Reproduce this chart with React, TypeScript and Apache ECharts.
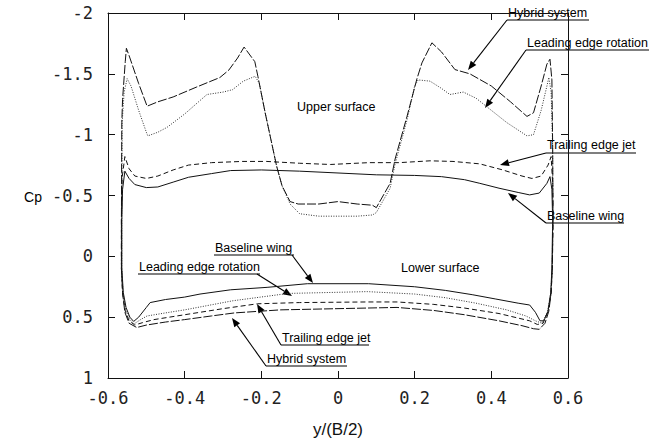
import React, { useEffect, useRef } from "react";
import * as echarts from "echarts";

// Spanwise stations y/(B/2) and pressure coefficient Cp.
const baselineUpper: [number, number][] = [
  [-0.564, -0.3], [-0.562, -0.55], [-0.556, -0.7], [-0.545, -0.64], [-0.53, -0.59], [-0.5, -0.565],
  [-0.47, -0.57], [-0.43, -0.61], [-0.39, -0.65], [-0.33, -0.68], [-0.28, -0.705], [-0.2, -0.71],
  [-0.1, -0.7], [0, -0.685], [0.1, -0.67], [0.2, -0.665], [0.27, -0.655], [0.33, -0.63],
  [0.37, -0.6], [0.42, -0.56], [0.47, -0.525], [0.5, -0.505], [0.525, -0.52], [0.545, -0.6],
  [0.553, -0.655], [0.558, -0.55], [0.56, -0.3],
];
const baselineLower: [number, number][] = [
  [-0.564, 0.1], [-0.56, 0.3], [-0.553, 0.42], [-0.543, 0.5], [-0.533, 0.535], [-0.52, 0.5],
  [-0.5, 0.42], [-0.49, 0.38], [-0.45, 0.355], [-0.4, 0.335], [-0.36, 0.31], [-0.28, 0.275],
  [-0.185, 0.255], [-0.08, 0.225], [0.08, 0.225], [0.2, 0.25], [0.28, 0.28], [0.35, 0.315],
  [0.41, 0.35], [0.47, 0.385], [0.5, 0.4], [0.515, 0.46], [0.527, 0.53], [0.537, 0.53],
  [0.548, 0.45], [0.555, 0.3], [0.558, 0.1],
];
const trailingJetUpper: [number, number][] = [
  [-0.565, -0.3], [-0.563, -0.65], [-0.556, -0.82], [-0.545, -0.72], [-0.53, -0.66], [-0.5, -0.64],
  [-0.47, -0.66], [-0.43, -0.71], [-0.39, -0.75], [-0.33, -0.77], [-0.25, -0.78], [-0.186, -0.78],
  [-0.1, -0.765], [-0.02, -0.755], [0.08, -0.77], [0.16, -0.77], [0.24, -0.785], [0.3, -0.78],
  [0.37, -0.76], [0.43, -0.71], [0.48, -0.66], [0.506, -0.64], [0.53, -0.66], [0.548, -0.75],
  [0.556, -0.82], [0.56, -0.6], [0.561, -0.3],
];
const trailingJetLower: [number, number][] = [
  [-0.565, 0.1], [-0.562, 0.3], [-0.555, 0.45], [-0.545, 0.53], [-0.53, 0.565], [-0.51, 0.545],
  [-0.48, 0.52], [-0.44, 0.5], [-0.4, 0.48], [-0.3, 0.43], [-0.21, 0.39], [-0.1, 0.38],
  [0.076, 0.375], [0.154, 0.375], [0.25, 0.395], [0.33, 0.425], [0.42, 0.47], [0.5, 0.53],
  [0.52, 0.56], [0.535, 0.55], [0.548, 0.45], [0.556, 0.3], [0.559, 0.1],
];
const leadingRotUpper: [number, number][] = [
  [-0.564, -0.3], [-0.563, -1.1], [-0.558, -1.35], [-0.55, -1.46], [-0.54, -1.4], [-0.52, -1.2],
  [-0.5, -1.02], [-0.496, -0.99], [-0.47, -1.02], [-0.446, -1.06], [-0.4, -1.17], [-0.342, -1.33],
  [-0.3, -1.35], [-0.275, -1.37], [-0.247, -1.44], [-0.216, -1.48], [-0.205, -1.42], [-0.19, -1.18],
  [-0.16, -0.74], [-0.146, -0.58], [-0.125, -0.43], [-0.1, -0.35], [-0.05, -0.33], [0, -0.33],
  [0.05, -0.33], [0.09, -0.34], [0.1, -0.36], [0.136, -0.56], [0.149, -0.76], [0.18, -1.12],
  [0.2, -1.4], [0.209, -1.45], [0.24, -1.44], [0.27, -1.38], [0.292, -1.33], [0.327, -1.35],
  [0.36, -1.3], [0.388, -1.23], [0.44, -1.1], [0.493, -0.99], [0.51, -1.0], [0.53, -1.2],
  [0.545, -1.4], [0.55, -1.47], [0.556, -1.35], [0.56, -0.9], [0.56, -0.3],
];
const leadingRotLower: [number, number][] = [
  [-0.564, 0.1], [-0.561, 0.3], [-0.554, 0.44], [-0.543, 0.52], [-0.532, 0.555], [-0.515, 0.52],
  [-0.498, 0.49], [-0.45, 0.465], [-0.4, 0.44], [-0.274, 0.365], [-0.13, 0.305], [0.076, 0.29],
  [0.2, 0.31], [0.28, 0.34], [0.36, 0.385], [0.44, 0.44], [0.49, 0.49], [0.515, 0.53],
  [0.532, 0.55], [0.546, 0.46], [0.555, 0.3], [0.559, 0.1],
];
const hybridUpper: [number, number][] = [
  [-0.565, -0.3], [-0.564, -1.1], [-0.562, -1.29], [-0.555, -1.6], [-0.552, -1.71], [-0.545, -1.65],
  [-0.52, -1.42], [-0.498, -1.234], [-0.47, -1.27], [-0.43, -1.31], [-0.37, -1.39], [-0.308, -1.47],
  [-0.285, -1.53], [-0.262, -1.63], [-0.245, -1.72], [-0.217, -1.6], [-0.209, -1.48], [-0.19, -1.18],
  [-0.16, -0.74], [-0.146, -0.58], [-0.125, -0.45], [-0.104, -0.43], [-0.05, -0.43], [0, -0.45],
  [0.05, -0.43], [0.09, -0.42], [0.1, -0.4], [0.136, -0.6], [0.149, -0.8], [0.18, -1.15],
  [0.206, -1.46], [0.219, -1.59], [0.245, -1.755], [0.27, -1.68], [0.305, -1.535], [0.344, -1.5],
  [0.4, -1.4], [0.45, -1.27], [0.493, -1.15], [0.51, -1.18], [0.53, -1.4], [0.545, -1.58],
  [0.553, -1.62], [0.558, -1.45], [0.56, -0.9], [0.561, -0.3],
];
const hybridLower: [number, number][] = [
  [-0.565, 0.1], [-0.562, 0.3], [-0.556, 0.46], [-0.545, 0.55], [-0.525, 0.585], [-0.5, 0.565],
  [-0.45, 0.54], [-0.4, 0.52], [-0.33, 0.49], [-0.27, 0.465], [-0.15, 0.44], [0.076, 0.425],
  [0.154, 0.42], [0.25, 0.445], [0.33, 0.48], [0.42, 0.53], [0.48, 0.57], [0.51, 0.595],
  [0.525, 0.6], [0.54, 0.55], [0.55, 0.45], [0.556, 0.3], [0.559, 0.1],
];

const xTicks = [-0.6, -0.4, -0.2, 0, 0.2, 0.4, 0.6];
const yTicks = [-2, -1.5, -1, -0.5, 0, 0.5, 1];

const loop = (lower: [number, number][], upper: [number, number][]) => [
  ...lower,
  ...upper.slice().reverse(),
  lower[0],
];

// annotation layout (page pixels)
const notes = [
  { text: "Hybrid system", x: 508, y: 13, w: 81, from: [507, 20], to: [468, 70] },
  { text: "Leading edge rotation", x: 527, y: 43, w: 122, from: [526, 50], to: [485, 108] },
  { text: "Trailing edge jet", x: 547, y: 145, w: 89, from: [546, 153], to: [500, 165] },
  { text: "Baseline wing", x: 547, y: 216, w: 77, from: [546, 223], to: [508, 193] },
  { text: "Baseline wing", x: 215, y: 248, w: 79, from: [292, 255], to: [313, 283] },
  { text: "Leading edge rotation", x: 139, y: 267, w: 121, from: [257, 274], to: [292, 296] },
  { text: "Trailing edge jet", x: 282, y: 338, w: 87, from: [281, 345], to: [257, 304] },
  { text: "Hybrid system", x: 267, y: 359, w: 80, from: [266, 366], to: [232, 318] },
];
const plainNotes = [
  { text: "Upper surface", x: 297, y: 107 },
  { text: "Lower surface", x: 401, y: 268 },
];

const TEXT_FONT = "'Liberation Sans', Arial, sans-serif";
const MONO_FONT = "'DejaVu Sans Mono', 'Liberation Mono', monospace";

function arrowGraphics(from: number[], to: number[]) {
  const [x1, y1] = from;
  const [x2, y2] = to;
  const dx = x2 - x1;
  const dy = y2 - y1;
  const len = Math.sqrt(dx * dx + dy * dy);
  const ux = dx / len;
  const uy = dy / len;
  const hl = 9;
  const hw = 3.5;
  const bx = x2 - ux * hl;
  const by = y2 - uy * hl;
  return [
    { type: "line", shape: { x1, y1, x2: bx, y2: by }, style: { stroke: "#000", lineWidth: 1.1 } },
    {
      type: "polygon",
      shape: {
        points: [
          [x2, y2],
          [bx - uy * hw, by + ux * hw],
          [bx + uy * hw, by - ux * hw],
        ],
      },
      style: { fill: "#000" },
    },
  ];
}

export default function App() {
  const ref = useRef<HTMLDivElement>(null);
  useEffect(() => {
    if (!ref.current) return;
    const chart = echarts.init(ref.current, undefined, { renderer: "svg" });
    const graphics: any[] = [];
    notes.forEach((n) => {
      graphics.push({
        type: "text",
        x: n.x,
        y: n.y,
        style: { text: n.text, fill: "#000", font: `12.5px ${TEXT_FONT}`, verticalAlign: "middle", align: "left" },
      });
      graphics.push({
        type: "line",
        shape: { x1: n.x - 1, y1: n.from[1], x2: n.x + n.w, y2: n.from[1] },
        style: { stroke: "#000", lineWidth: 1.1 },
      });
      graphics.push(...arrowGraphics(n.from, n.to));
    });
    plainNotes.forEach((n) => {
      graphics.push({
        type: "text",
        x: n.x,
        y: n.y,
        style: { text: n.text, fill: "#000", font: `12.5px ${TEXT_FONT}`, verticalAlign: "middle", align: "left" },
      });
    });
    graphics.push({
      type: "text",
      x: 33,
      y: 197,
      style: { text: "Cp", fill: "#000", font: `14px ${TEXT_FONT}`, verticalAlign: "middle", align: "center" },
    });

    const axisCommon = {
      type: "value" as const,
      axisLine: { show: true, onZero: false, lineStyle: { color: "#111", width: 1 } },
      axisTick: { show: true, inside: true, length: 7, lineStyle: { color: "#111", width: 1 } },
      splitLine: { show: false },
    };
    const lineSeries = (name: string, data: any[], type: any, color: string) => ({
      name,
      type: "line",
      data,
      showSymbol: false,
      symbol: "none",
      xAxisIndex: 0,
      yAxisIndex: 0,
      lineStyle: { color, width: 1, type },
      emphasis: { disabled: true },
    });

    chart.setOption({
      animation: false,
      backgroundColor: "#fff",
      grid: { left: 108, right: 92, top: 13, bottom: 62, containLabel: false },
      xAxis: [
        {
          ...axisCommon,
          position: "bottom",
          min: xTicks[0],
          max: xTicks[xTicks.length - 1],
          interval: 0.2,
          axisLabel: {
            color: "#222",
            fontFamily: MONO_FONT,
            fontSize: 17,
            margin: 11,
            formatter: (v: number) => String(Math.round(v * 10) / 10),
          },
          name: "y/(B/2)",
          nameLocation: "middle",
          nameGap: 43,
          nameTextStyle: { color: "#111", fontFamily: TEXT_FONT, fontSize: 17 },
        },
        {
          ...axisCommon,
          position: "top",
          min: xTicks[0],
          max: xTicks[xTicks.length - 1],
          interval: 0.2,
          axisLabel: { show: false },
        },
      ],
      yAxis: [
        {
          ...axisCommon,
          position: "left",
          inverse: true,
          min: yTicks[0],
          max: yTicks[yTicks.length - 1],
          interval: 0.5,
          axisLabel: {
            color: "#222",
            fontFamily: MONO_FONT,
            fontSize: 17,
            margin: 15,
            formatter: (v: number) => String(v),
          },
        },
        {
          ...axisCommon,
          position: "right",
          inverse: true,
          min: yTicks[0],
          max: yTicks[yTicks.length - 1],
          interval: 0.5,
          axisLabel: { show: false },
        },
      ],
      series: [
        lineSeries("Baseline wing", loop(baselineLower, baselineUpper), "solid", "#111"),
        lineSeries("Trailing edge jet", loop(trailingJetLower, trailingJetUpper), [5, 3], "#111"),
        lineSeries("Leading edge rotation", loop(leadingRotLower, leadingRotUpper), [1, 1.5], "#333"),
        lineSeries("Hybrid system", loop(hybridLower, hybridUpper), [9, 2], "#111"),
      ],
      graphic: graphics,
    });
    return () => chart.dispose();
  }, []);
  return (
    <div
      ref={ref}
      style={{ position: "fixed", left: 0, top: 0, width: 660, height: 443, background: "#fff" }}
    />
  );
}
